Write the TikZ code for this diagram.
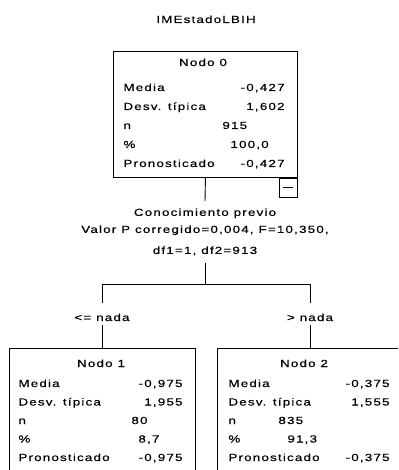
\documentclass[tikz,border=0pt]{standalone}
\usepackage{fontspec}
\setmainfont{Liberation Sans}[FakeStretch=1.3,LetterSpace=11.5,FakeBold=0.4]
\begin{document}
\begin{tikzpicture}[x=1pt,y=-1pt,line width=0.9pt,
		texto/.style={inner sep=0pt,font=\fontsize{10.3}{17}\selectfont},
		caja/.style={draw,minimum width=184pt,minimum height=126pt,inner sep=0pt},
		cajab/.style={draw,minimum width=186pt,minimum height=130pt,inner sep=0pt},
		menos/.style={draw,minimum width=18pt,minimum height=19pt,inner sep=0pt},
		cond/.style={texto,text height=18pt,text depth=4pt}]
		
		\clip (0,0) rectangle (398,470);
		
		\node[texto,anchor=base] (titulo) at (206,23) {IMEstadoLBIH};
		
		% cajas de los nodos
		\node[caja,anchor=north west] (nodo0) at (113,51) {};
		\node[menos,anchor=north east] (plegar0) at (nodo0.south east) {\rule{10pt}{0.9pt}};
		\node[cajab,anchor=north] (nodo1) at (102,348) {};
		\node[cajab,anchor=north] (nodo2) at (310,348) {};
		
		\node[texto,anchor=base] (t0) at (203,66) {Nodo 0};
		\node[texto,anchor=base] (t1) at (101,367) {Nodo 1};
		\node[texto,anchor=base] (t2) at (304,367) {Nodo 2};
		
		\foreach \k/\x/\y/\dy in {0/123/91/19, 1/18/387/18.5, 2/228/387/18.5}{
			\foreach \etiq [count=\i] in {Media,Desv. típica,n,\%,Pronosticado}{
				\node[texto,anchor=base west] (e\k-\i) at (\x,{\y+\dy*(\i-1)}) {\etiq};
			}
		}
		
		\node[texto,anchor=base east] (v0-1) at (285,91) {-0,427};
		\node[texto,anchor=base east] (v0-2) at (285,110) {1,602};
		\node[texto,anchor=base west] (v0-3) at (222,129) {915};
		\node[texto,anchor=base west] (v0-4) at (230,148) {100,0};
		\node[texto,anchor=base east] (v0-5) at (285,167) {-0,427};
		
		\node[texto,anchor=base east] (v1-1) at (183,387) {-0,975};
		\node[texto,anchor=base east] (v1-2) at (183,405.5) {1,955};
		\node[texto,anchor=base west] (v1-3) at (131,424) {80};
		\node[texto,anchor=base west] (v1-4) at (138,442.5) {8,7};
		\node[texto,anchor=base east] (v1-5) at (183,461) {-0,975};
		
		\node[texto,anchor=base east] (v2-1) at (390,387) {-0,375};
		\node[texto,anchor=base east] (v2-2) at (390,405.5) {1,555};
		\node[texto,anchor=base west] (v2-3) at (278,424) {835};
		\node[texto,anchor=base west] (v2-4) at (287,442.5) {91,3};
		\node[texto,anchor=base east] (v2-5) at (390,461) {-0,375};
		
		% division
		\node[texto,align=center,inner ysep=7pt,anchor=north] (corte) at (205,201)
			{Conocimiento previo\\Valor P corregido=0,004, F=10,350,\\[4pt]df1=1, df2=913};
		\coordinate (rama) at (205,284);
		\coordinate (rama1) at (102,284);
		\coordinate (rama2) at (310,284);
		\node[cond,anchor=base] (cond1) at (102,321) {<= nada};
		\node[cond,anchor=base] (cond2) at (310,321) {> nada};
		
		\draw (nodo0.south) -- (corte.north);
		\draw (corte.south) -- (rama);
		\draw (rama1) -- (rama2);
		\draw (rama1) -- (cond1.north);
		\draw (rama2) -- (cond2.north);
		\draw (cond1.south) -- (nodo1.north);
		\draw (cond2.south) -- (nodo2.north);
		
\end{tikzpicture}
\end{document}
